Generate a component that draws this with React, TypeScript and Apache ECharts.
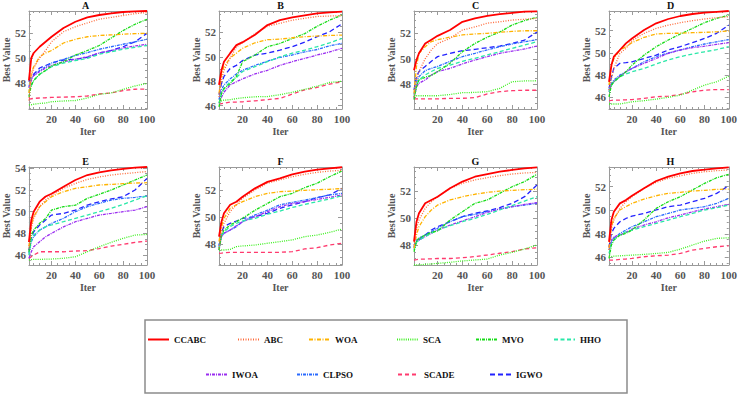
import React, { useEffect, useRef } from 'react';
import * as echarts from 'echarts';

const ITER = [1, 3, 5, 10, 15, 20, 30, 40, 50, 60, 70, 80, 90, 100];
const ALGOS = ['CCABC', 'ABC', 'WOA', 'SCA', 'MVO', 'HHO', 'IWOA', 'CLPSO', 'SCADE', 'IGWO'];
const PANELS = ['A', 'B', 'C', 'D', 'E', 'F', 'G', 'H'];
const X_TICKS = [20, 40, 60, 80, 100];
const Y_RANGES = [
  [45.92, 53.76], [45.73, 53.75], [46.06, 53.75], [44.95, 53.77],
  [45.08, 54.12], [46.44, 53.7], [46.52, 53.78], [45.35, 53.67],
];
const Y_TICKS = [
  [48, 50, 52], [46, 48, 50, 52], [48, 50, 52], [46, 48, 50, 52],
  [46, 48, 50, 52, 54], [48, 50, 52], [48, 50, 52], [46, 48, 50, 52],
];

// Each panel: series in ALGOS order
const PANEL_A = [
  [48.2, 50.0, 50.4, 50.9, 51.3, 51.7, 52.4, 52.9, 53.25, 53.44, 53.57, 53.68, 53.73, 53.76],
  [46.6, 48.5, 49.2, 50.0, 50.6, 51.3, 52.1, 52.5, 52.8, 53.1, 53.25, 53.4, 53.55, 53.63],
  [47.2, 48.8, 49.3, 50.1, 50.4, 50.6, 51.2, 51.5, 51.7, 51.8, 51.85, 51.9, 51.95, 51.97],
  [46.24, 46.26, 46.3, 46.37, 46.4, 46.5, 46.56, 46.6, 46.8, 47.1, 47.2, 47.5, 47.76, 47.97],
  [46.9, 47.8, 48.2, 48.7, 49.0, 49.36, 49.7, 50.24, 50.6, 51.0, 51.6, 52.2, 52.7, 53.1],
  [47.3, 47.8, 48.2, 48.7, 49.0, 49.3, 49.6, 49.8, 49.97, 50.3, 50.5, 50.7, 50.85, 51.0],
  [47.6, 48.2, 48.6, 48.9, 49.2, 49.4, 49.7, 49.9, 50.1, 50.4, 50.6, 50.8, 50.96, 51.1],
  [47.7, 48.4, 48.6, 49.0, 49.3, 49.6, 49.9, 50.2, 50.43, 50.7, 50.9, 51.1, 51.3, 51.5],
  [46.72, 46.74, 46.77, 46.8, 46.82, 46.85, 46.87, 46.9, 46.96, 47.12, 47.2, 47.4, 47.5, 47.52],
  [48.1, 48.5, 48.7, 49.2, 49.4, 49.6, 49.84, 49.9, 50.05, 50.4, 50.6, 50.9, 51.3, 51.97],
];
const PANEL_B = [
  [47.7, 48.9, 49.6, 50.3, 50.96, 51.2, 51.8, 52.6, 53.0, 53.23, 53.4, 53.56, 53.64, 53.7],
  [46.7, 48.1, 48.9, 49.9, 50.8, 51.15, 51.9, 52.5, 52.74, 53.0, 53.15, 53.3, 53.34, 53.37],
  [47.0, 48.5, 49.2, 49.9, 50.3, 50.7, 51.15, 51.4, 51.45, 51.56, 51.65, 51.7, 51.75, 51.78],
  [46.3, 46.4, 46.45, 46.5, 46.58, 46.65, 46.73, 46.75, 46.9, 47.1, 47.33, 47.6, 47.9, 48.0],
  [45.9, 47.0, 47.4, 47.8, 48.4, 49.6, 50.15, 50.83, 51.1, 51.5, 51.9, 52.5, 53.0, 53.42],
  [46.2, 47.0, 47.4, 47.96, 48.3, 48.8, 49.2, 49.6, 50.0, 50.3, 50.55, 50.83, 51.15, 51.5],
  [46.2, 46.7, 47.1, 47.7, 47.96, 48.2, 48.6, 48.9, 49.3, 49.6, 49.87, 50.15, 50.4, 50.7],
  [46.5, 47.3, 47.7, 48.2, 48.6, 48.9, 49.3, 49.65, 49.95, 50.15, 50.4, 50.6, 50.9, 51.1],
  [46.13, 46.17, 46.2, 46.3, 46.3, 46.32, 46.4, 46.5, 46.6, 46.95, 47.3, 47.5, 47.77, 47.96],
  [46.9, 47.8, 48.4, 49.05, 49.3, 49.7, 50.15, 50.3, 50.55, 50.83, 51.2, 51.65, 52.05, 52.7],
];
const PANEL_C = [
  [49.1, 49.9, 50.43, 51.2, 51.5, 51.8, 52.26, 52.9, 53.17, 53.36, 53.5, 53.6, 53.7, 53.72],
  [47.0, 48.3, 49.0, 50.0, 50.7, 51.2, 51.6, 52.26, 52.5, 52.8, 52.9, 53.04, 53.1, 53.17],
  [47.3, 49.4, 50.43, 50.95, 51.35, 51.5, 51.7, 51.87, 51.95, 52.0, 52.08, 52.15, 52.2, 52.2],
  [47.1, 47.1, 47.1, 47.1, 47.1, 47.1, 47.2, 47.34, 47.36, 47.42, 47.68, 48.2, 48.26, 48.28],
  [46.8, 47.8, 48.34, 48.55, 48.7, 48.99, 49.65, 50.56, 51.2, 51.7, 52.1, 52.65, 53.0, 53.25],
  [47.03, 47.95, 48.34, 48.73, 49.0, 49.25, 49.5, 49.8, 50.04, 50.3, 50.56, 50.82, 51.08, 51.34],
  [46.9, 47.8, 48.08, 48.34, 48.73, 49.0, 49.25, 49.6, 49.9, 50.17, 50.43, 50.6, 50.77, 51.0],
  [47.2, 48.2, 48.6, 49.07, 49.25, 49.4, 49.8, 50.17, 50.43, 50.7, 50.95, 51.16, 51.34, 51.5],
  [46.85, 46.85, 46.85, 46.85, 46.85, 46.85, 46.9, 46.9, 46.95, 47.24, 47.42, 47.5, 47.53, 47.53],
  [47.55, 48.6, 49.0, 49.4, 49.8, 50.17, 50.43, 50.64, 50.74, 50.87, 51.0, 51.2, 51.47, 52.1],
];
const PANEL_D = [
  [47.4, 48.9, 49.66, 50.26, 50.86, 51.3, 52.06, 52.66, 53.05, 53.32, 53.5, 53.62, 53.7, 53.77],
  [46.65, 47.7, 48.6, 49.96, 50.4, 51.1, 51.76, 52.2, 52.5, 52.72, 52.9, 53.05, 53.17, 53.26],
  [47.1, 48.75, 49.5, 50.26, 50.56, 50.92, 51.4, 51.7, 51.76, 51.77, 51.82, 51.85, 51.9, 51.97],
  [45.4, 45.4, 45.4, 45.4, 45.5, 45.6, 45.7, 45.84, 46.0, 46.2, 46.65, 47.1, 47.4, 47.9],
  [46.05, 47.1, 47.4, 47.85, 48.3, 48.9, 49.8, 50.56, 51.16, 51.7, 52.2, 52.72, 53.1, 53.4],
  [46.5, 47.1, 47.4, 47.85, 48.1, 48.3, 48.6, 49.0, 49.36, 49.66, 49.9, 50.1, 50.3, 50.56],
  [46.5, 47.1, 47.4, 47.9, 48.3, 48.6, 49.06, 49.5, 49.96, 50.26, 50.47, 50.6, 50.77, 50.92],
  [46.65, 47.25, 47.55, 48.0, 48.3, 48.6, 49.2, 49.66, 50.0, 50.26, 50.56, 50.8, 51.0, 51.2],
  [45.7, 45.72, 45.75, 45.75, 45.78, 45.8, 45.9, 46.05, 46.1, 46.26, 46.5, 46.65, 46.7, 46.7],
  [46.8, 47.85, 48.6, 49.06, 49.12, 49.2, 49.5, 49.8, 50.26, 50.56, 50.92, 51.3, 51.76, 52.5],
];
const PANEL_E = [
  [47.2, 49.2, 50.0, 50.92, 51.4, 51.65, 52.3, 52.92, 53.38, 53.63, 53.8, 53.94, 54.06, 54.12],
  [46.6, 48.46, 49.4, 50.46, 51.07, 51.5, 52.15, 52.6, 52.98, 53.2, 53.38, 53.5, 53.6, 53.7],
  [46.77, 48.76, 49.54, 50.46, 50.92, 51.38, 51.84, 52.15, 52.3, 52.46, 52.52, 52.58, 52.64, 52.67],
  [45.54, 45.57, 45.6, 45.6, 45.62, 45.63, 45.7, 45.84, 46.3, 46.77, 47.17, 47.54, 47.84, 47.9],
  [46.3, 47.84, 48.3, 48.92, 49.38, 50.15, 50.46, 50.6, 51.23, 51.6, 52.0, 52.46, 52.92, 53.38],
  [46.0, 47.38, 47.84, 48.3, 48.6, 48.77, 49.07, 49.38, 49.69, 50.0, 50.3, 50.67, 51.07, 51.47],
  [45.69, 46.3, 46.77, 47.23, 47.69, 48.0, 48.6, 49.07, 49.38, 49.69, 49.84, 50.0, 50.15, 50.46],
  [46.15, 47.23, 47.69, 48.3, 48.6, 48.92, 49.38, 50.0, 50.46, 50.77, 51.07, 51.23, 51.32, 51.44],
  [45.69, 45.85, 46.0, 46.3, 46.3, 46.3, 46.3, 46.37, 46.4, 46.6, 46.83, 46.98, 47.17, 47.29],
  [46.46, 47.54, 48.15, 48.77, 49.23, 49.69, 49.84, 50.15, 50.6, 50.92, 51.17, 51.38, 52.0, 53.07],
];
const PANEL_F = [
  [48.54, 49.65, 50.27, 50.9, 51.13, 51.5, 52.12, 52.6, 52.86, 53.16, 53.35, 53.5, 53.6, 53.68],
  [47.67, 48.9, 49.53, 50.4, 50.9, 51.38, 52.0, 52.5, 52.74, 52.98, 53.16, 53.3, 53.4, 53.45],
  [48.17, 49.28, 49.9, 50.64, 50.9, 51.13, 51.5, 51.75, 51.87, 51.92, 51.97, 52.02, 52.05, 52.1],
  [47.55, 47.55, 47.55, 47.6, 47.8, 47.85, 47.92, 48.05, 48.17, 48.3, 48.54, 48.66, 48.86, 49.1],
  [47.55, 48.66, 49.03, 49.4, 49.65, 49.9, 50.5, 51.0, 51.5, 51.75, 52.17, 52.5, 52.98, 53.4],
  [47.67, 48.66, 48.9, 49.28, 49.53, 49.7, 49.9, 50.2, 50.44, 50.7, 50.93, 51.13, 51.33, 51.58],
  [47.55, 48.54, 48.79, 49.03, 49.35, 49.65, 50.02, 50.4, 50.76, 51.0, 51.13, 51.3, 51.45, 51.63],
  [47.92, 48.54, 48.79, 49.03, 49.28, 49.65, 50.15, 50.5, 50.9, 51.08, 51.25, 51.43, 51.63, 51.75],
  [47.3, 47.32, 47.35, 47.38, 47.38, 47.38, 47.38, 47.38, 47.38, 47.43, 47.63, 47.72, 47.92, 48.05],
  [47.8, 48.9, 49.28, 49.53, 49.7, 49.9, 50.02, 50.27, 50.64, 50.9, 51.13, 51.43, 51.63, 52.12],
];
const PANEL_G = [
  [48.25, 49.73, 50.35, 51.09, 51.34, 51.58, 52.2, 52.7, 53.06, 53.26, 53.43, 53.56, 53.68, 53.75],
  [48.0, 49.24, 49.85, 50.72, 51.21, 51.58, 52.2, 52.57, 52.82, 52.99, 53.14, 53.26, 53.34, 53.38],
  [47.76, 48.74, 49.36, 50.1, 50.6, 50.96, 51.34, 51.58, 51.76, 51.9, 52.0, 52.05, 52.1, 52.13],
  [46.52, 46.52, 46.52, 46.57, 46.6, 46.64, 46.72, 46.82, 46.89, 46.96, 47.26, 47.46, 47.71, 48.0],
  [47.5, 48.25, 48.5, 48.74, 48.94, 49.04, 49.85, 50.47, 51.09, 51.34, 51.83, 52.32, 52.7, 53.24],
  [47.63, 48.2, 48.37, 48.62, 48.87, 49.11, 49.43, 49.73, 49.98, 50.27, 50.6, 50.92, 51.26, 51.58],
  [47.76, 48.25, 48.37, 48.62, 48.87, 49.11, 49.48, 49.78, 50.1, 50.42, 50.67, 50.84, 51.01, 51.14],
  [47.88, 48.37, 48.5, 48.74, 48.99, 49.24, 49.73, 50.1, 50.27, 50.47, 50.67, 50.84, 50.96, 51.09],
  [46.89, 46.92, 46.96, 46.96, 46.98, 47.0, 47.0, 47.06, 47.14, 47.26, 47.39, 47.51, 47.71, 47.8],
  [47.88, 48.25, 48.37, 48.74, 49.11, 49.36, 49.73, 50.1, 50.35, 50.52, 50.77, 51.09, 51.58, 52.45],
];
const PANEL_H = [
  [47.32, 49.17, 49.87, 50.58, 50.86, 51.23, 51.86, 52.48, 52.85, 53.13, 53.33, 53.44, 53.56, 53.64],
  [46.62, 48.46, 49.17, 50.16, 50.72, 51.15, 51.86, 52.37, 52.71, 52.93, 53.13, 53.27, 53.36, 53.42],
  [46.76, 48.6, 49.3, 50.02, 50.3, 50.58, 50.95, 51.23, 51.43, 51.52, 51.63, 51.69, 51.77, 51.8],
  [46.05, 46.07, 46.1, 46.13, 46.16, 46.19, 46.25, 46.33, 46.42, 46.7, 47.04, 47.38, 47.61, 47.66],
  [45.91, 47.04, 47.47, 47.89, 48.03, 48.32, 49.17, 50.16, 50.72, 51.15, 51.72, 52.28, 52.76, 53.05],
  [46.33, 47.18, 47.47, 47.89, 48.17, 48.32, 48.6, 48.88, 49.17, 49.45, 49.73, 50.02, 50.21, 50.44],
  [46.9, 47.47, 47.75, 47.89, 48.12, 48.4, 48.74, 49.02, 49.36, 49.59, 49.87, 50.1, 50.3, 50.5],
  [46.62, 47.32, 47.61, 48.03, 48.32, 48.6, 49.02, 49.45, 49.73, 50.02, 50.16, 50.3, 50.58, 51.01],
  [45.77, 45.77, 45.77, 45.82, 45.86, 45.91, 46.05, 46.13, 46.19, 46.33, 46.62, 46.76, 46.9, 46.98],
  [46.9, 48.03, 48.46, 49.02, 49.3, 49.5, 49.73, 50.02, 50.3, 50.44, 50.72, 51.01, 51.43, 52.08],
];
const PANEL_DATA = [PANEL_A, PANEL_B, PANEL_C, PANEL_D, PANEL_E, PANEL_F, PANEL_G, PANEL_H];

// Styles & layout (kept separate from the data)
const STYLES: Record<string, { color: string; type: any; width: number }> = {
  CCABC: { color: '#ff0000', type: 'solid', width: 1.8 },
  ABC: { color: '#ff6a3a', type: [1, 1.5], width: 1.3 },
  WOA: { color: '#ffb300', type: [4, 1.5, 1, 1.5], width: 1.3 },
  SCA: { color: '#3cf01e', type: [1, 1.2], width: 1.3 },
  MVO: { color: '#18dc18', type: [3, 1, 1, 1], width: 1.3 },
  HHO: { color: '#2ae8a8', type: [4, 2.5], width: 1.3 },
  IWOA: { color: '#9a2cf0', type: [3, 1, 1, 1], width: 1.3 },
  CLPSO: { color: '#2a6bff', type: [3, 1, 1, 1], width: 1.3 },
  SCADE: { color: '#ff3a6e', type: [4, 3], width: 1.3 },
  IGWO: { color: '#2222ff', type: [5, 3], width: 1.3 },
};
const LEGEND_POS: Record<string, [number, number]> = {
  CCABC: [147, 335], ABC: [237, 335], WOA: [308, 335], SCA: [396, 335], MVO: [475, 335], HHO: [553, 335],
  IWOA: [205, 370], CLPSO: [296, 370], SCADE: [397, 370], IGWO: [489, 370],
};
const GRID_LEFT = [24, 219, 414, 609];
const GRID_TOP = [11, 167];
const GRID_W = 123;
const GRID_H = 98;
const FONT = '"Liberation Serif", "Times New Roman", serif';
const FRAME = '#9a9a9a';
const LABEL = '#555555';

function minorValues(min: number, max: number, step: number, majors: number[]) {
  const out: number[] = [];
  for (let v = Math.ceil(min / step) * step; v <= max + 1e-9; v += step) {
    const r = Math.round(v * 100) / 100;
    if (!majors.includes(r)) out.push(r);
  }
  return out;
}

function buildOption() {
  const grid: any[] = [];
  const xAxis: any[] = [];
  const yAxis: any[] = [];
  const series: any[] = [];
  const title: any[] = [];
  const xMinor = minorValues(1, 100, 5, X_TICKS);

  PANELS.forEach((p, g) => {
    const left = GRID_LEFT[g % 4];
    const top = GRID_TOP[Math.floor(g / 4)];
    grid.push({ left, top, width: GRID_W, height: GRID_H, containLabel: false });
    title.push({
      text: p, left: left + GRID_W / 2, top: top - 11, textAlign: 'center', padding: 0,
      textStyle: { fontFamily: FONT, fontSize: 10, fontWeight: 'bold', color: '#111' },
    });
    const [ymin, ymax] = Y_RANGES[g];
    const yMajor = Y_TICKS[g];
    const yMinor = minorValues(ymin, ymax, 0.5, yMajor);
    const line = { show: true, onZero: false, lineStyle: { color: FRAME, width: 1 } };
    const tickStyle = { color: FRAME, width: 1 };
    const xb = 4 * g;
    // x axes: bottom (labels, majors), top (majors), bottom minors, top minors
    xAxis.push({
      gridIndex: g, type: 'value', min: 1, max: 100, position: 'bottom',
      axisLine: line,
      axisTick: { show: true, inside: true, length: 4, customValues: X_TICKS, lineStyle: tickStyle },
      axisLabel: { customValues: X_TICKS, margin: 4, color: LABEL, fontSize: 11, fontWeight: 'bold', fontFamily: FONT },
      splitLine: { show: false },
      name: 'Iter', nameLocation: 'middle', nameGap: 17,
      nameTextStyle: { color: LABEL, fontSize: 10, fontWeight: 'bold', fontFamily: FONT },
    });
    xAxis.push({
      gridIndex: g, type: 'value', min: 1, max: 100, position: 'top',
      axisLine: line,
      axisTick: { show: true, inside: true, length: 4, customValues: X_TICKS, lineStyle: tickStyle },
      axisLabel: { show: false }, splitLine: { show: false },
    });
    ['bottom', 'top'].forEach((pos) => {
      xAxis.push({
        gridIndex: g, type: 'value', min: 1, max: 100, position: pos,
        axisLine: { show: false },
        axisTick: { show: true, inside: true, length: 2, customValues: xMinor, lineStyle: tickStyle },
        axisLabel: { show: false }, splitLine: { show: false },
      });
    });
    // y axes: left (labels, majors), right (majors), left minors, right minors
    yAxis.push({
      gridIndex: g, type: 'value', min: ymin, max: ymax, position: 'left',
      axisLine: line,
      axisTick: { show: true, inside: true, length: 4, customValues: yMajor, lineStyle: tickStyle },
      axisLabel: { customValues: yMajor, margin: 3, color: LABEL, fontSize: 11, fontWeight: 'bold', fontFamily: FONT },
      splitLine: { show: false },
      name: 'Best Value', nameLocation: 'middle', nameGap: 15, nameRotate: 90,
      nameTextStyle: { color: LABEL, fontSize: 10, fontWeight: 'bold', fontFamily: FONT },
    });
    yAxis.push({
      gridIndex: g, type: 'value', min: ymin, max: ymax, position: 'right',
      axisLine: line,
      axisTick: { show: true, inside: true, length: 4, customValues: yMajor, lineStyle: tickStyle },
      axisLabel: { show: false }, splitLine: { show: false },
    });
    ['left', 'right'].forEach((pos) => {
      yAxis.push({
        gridIndex: g, type: 'value', min: ymin, max: ymax, position: pos,
        axisLine: { show: false },
        axisTick: { show: true, inside: true, length: 2, customValues: yMinor, lineStyle: tickStyle },
        axisLabel: { show: false }, splitLine: { show: false },
      });
    });

    const data = PANEL_DATA[g];
    // draw in reverse order so CCABC ends on top
    for (let k = ALGOS.length - 1; k >= 0; k--) {
      const name = ALGOS[k];
      const st = STYLES[name];
      series.push({
        type: 'line', name, xAxisIndex: xb, yAxisIndex: xb,
        data: ITER.map((x, i) => [x, data[k][i]]),
        symbol: 'none', showSymbol: false, silent: true, clip: true,
        color: st.color,
        lineStyle: { color: st.color, type: st.type, width: st.width },
      });
    }
  });

  const legend = ALGOS.map((name) => ({
    data: [name], left: LEGEND_POS[name][0], top: LEGEND_POS[name][1],
    orient: 'horizontal', padding: 0, itemWidth: 21, itemHeight: 10,
    selectedMode: false,
    itemStyle: { opacity: 0 },
    textStyle: { fontFamily: FONT, fontSize: 9, fontWeight: 'bold', color: '#111' },
  }));

  return {
    animation: false,
    backgroundColor: '#ffffff',
    title, grid, xAxis, yAxis, series, legend,
    graphic: [{
      type: 'rect', z: -1, silent: true,
      shape: { x: 145, y: 320, width: 482, height: 73 },
      style: { fill: 'none', stroke: '#8c8c8c', lineWidth: 1.5 },
    }],
  };
}

export default function App() {
  const ref = useRef<HTMLDivElement>(null);
  useEffect(() => {
    if (!ref.current) return;
    const chart = echarts.init(ref.current, undefined, { renderer: 'svg' });
    chart.setOption(buildOption() as any);
    return () => chart.dispose();
  }, []);
  return (
    <div
      ref={ref}
      style={{ position: 'absolute', left: 0, top: 0, width: 740, height: 400, background: '#fff' }}
    />
  );
}
